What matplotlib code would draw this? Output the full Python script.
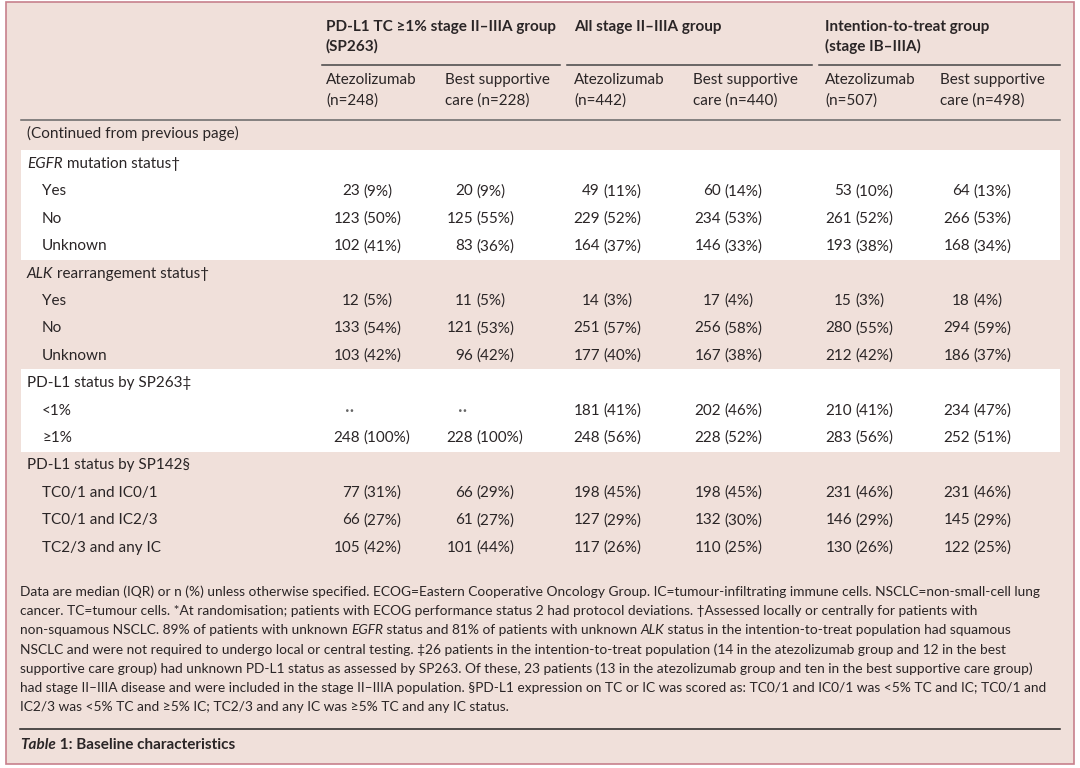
import matplotlib
matplotlib.use("Agg")
import matplotlib.pyplot as plt
from matplotlib.patches import Rectangle

plt.rcParams['font.family'] = ['Lato', 'DejaVu Sans']

# ---- table data ----
group_titles = [["PD-L1 TC \u22651% stage II\u2013IIIA group", "(SP263)"],
                ["All stage II\u2013IIIA group"],
                ["Intention-to-treat group", "(stage IB\u2013IIIA)"]]
col_heads = [["Atezolizumab", "(n=248)"], ["Best supportive", "care (n=228)"],
             ["Atezolizumab", "(n=442)"], ["Best supportive", "care (n=440)"],
             ["Atezolizumab", "(n=507)"], ["Best supportive", "care (n=498)"]]

sections = [[("EGFR", "italic"), (" mutation status\u2020", "normal")],
            [("ALK", "italic"), (" rearrangement status\u2020", "normal")],
            [("PD-L1 status by SP263\u2021", "normal")],
            [("PD-L1 status by SP142\u00a7", "normal")]]
subrows = [["Yes", "No", "Unknown"],
           ["Yes", "No", "Unknown"],
           ["<1%", "\u22651%"],
           ["TC0/1 and IC0/1", "TC0/1 and IC2/3", "TC2/3 and any IC"]]

n_pdl1_atezo = [23, 123, 102, 12, 133, 103, None, 248, 77, 66, 105]
p_pdl1_atezo = [9, 50, 41, 5, 54, 42, None, 100, 31, 27, 42]
n_pdl1_bsc = [20, 125, 83, 11, 121, 96, None, 228, 66, 61, 101]
p_pdl1_bsc = [9, 55, 36, 5, 53, 42, None, 100, 29, 27, 44]
n_all_atezo = [49, 229, 164, 14, 251, 177, 181, 248, 198, 127, 117]
p_all_atezo = [11, 52, 37, 3, 57, 40, 41, 56, 45, 29, 26]
n_all_bsc = [60, 234, 146, 17, 256, 167, 202, 228, 198, 132, 110]
p_all_bsc = [14, 53, 33, 4, 58, 38, 46, 52, 45, 30, 25]
n_itt_atezo = [53, 261, 193, 15, 280, 212, 210, 283, 231, 146, 130]
p_itt_atezo = [10, 52, 38, 3, 55, 42, 41, 56, 46, 29, 26]
n_itt_bsc = [64, 266, 168, 18, 294, 186, 234, 252, 231, 145, 122]
p_itt_bsc = [13, 53, 34, 4, 59, 37, 47, 51, 46, 29, 25]

footnotes = [
    [("Data are median (IQR) or n (%) unless otherwise specified. ECOG=Eastern Cooperative Oncology Group. IC=tumour-infiltrating immune cells. NSCLC=non-small-cell lung", "normal")],
    [("cancer. TC=tumour cells. *At randomisation; patients with ECOG performance status 2 had protocol deviations. \u2020Assessed locally or centrally for patients with", "normal")],
    [("non-squamous NSCLC. 89% of patients with unknown ", "normal"), ("EGFR", "italic"),
     (" status and 81% of patients with unknown ", "normal"), ("ALK", "italic"),
     (" status in the intention-to-treat population had squamous", "normal")],
    [("NSCLC and were not required to undergo local or central testing. \u202126 patients in the intention-to-treat population (14 in the atezolizumab group and 12 in the best", "normal")],
    [("supportive care group) had unknown PD-L1 status as assessed by SP263. Of these, 23 patients (13 in the atezolizumab group and ten in the best supportive care group)", "normal")],
    [("had stage II\u2013IIIA disease and were included in the stage II\u2013IIIA population. \u00a7PD-L1 expression on TC or IC was scored as: TC0/1 and IC0/1 was <5% TC and IC; TC0/1 and", "normal")],
    [("IC2/3 was <5% TC and \u22655% IC; TC2/3 and any IC was \u22655% TC and any IC status.", "normal")],
]

# ---- layout ----
BG = '#f0e0da'
TXT = '#2a2526'
fs = 11
fs_note = 9.9

fig = plt.figure(figsize=(10.8, 7.68), dpi=100)
fig.patch.set_facecolor('white')
ax = fig.add_axes([0, 0, 1, 1])
ax.set_xlim(0, 1080)
ax.set_ylim(768, 0)
ax.axis('off')
renderer = fig.canvas.get_renderer()


def runs(x, y, parts, size, weight='normal'):
    for s, style in parts:
        t = ax.text(x, y, s, fontsize=size, fontstyle=style, fontweight=weight,
                    color=TXT, va='center', ha='left')
        bb = t.get_window_extent(renderer)
        x += bb.width


ax.add_patch(Rectangle((6, 2), 1068, 762, facecolor=BG, edgecolor='#c7808c', lw=1.2))

row_y0 = 164
row_h = 27.4
# white bands behind first and third sections
ax.add_patch(Rectangle((21, row_y0 - 14), 1039, row_h * 3 + 28, facecolor='white', edgecolor='none'))
ax.add_patch(Rectangle((21, row_y0 + row_h * 8 - 14), 1039, row_h * 2 + 28, facecolor='white', edgecolor='none'))

# headers
gx = [326, 574, 825]
for x, lines in zip(gx, group_titles):
    for i, s in enumerate(lines):
        ax.text(x, 27 + 19 * i, s, fontsize=fs, fontweight='bold', color=TXT, va='center')
for x0, x1 in [(322, 560), (567, 812), (819, 1060)]:
    ax.plot([x0, x1], [65, 65], color='#444444', lw=1.1)
col_x = [326, 445, 574, 693, 825, 940]
for x, lines in zip(col_x, col_heads):
    for i, s in enumerate(lines):
        ax.text(x, 80 + 21 * i, s, fontsize=fs, color=TXT, va='center')
ax.plot([21, 1060], [120, 120], color='#666666', lw=1.1)
ax.text(27, 133, "(Continued from previous page)", fontsize=fs, color=TXT, va='center')

# body
columns = [(n_pdl1_atezo, p_pdl1_atezo), (n_pdl1_bsc, p_pdl1_bsc),
           (n_all_atezo, p_all_atezo), (n_all_bsc, p_all_bsc),
           (n_itt_atezo, p_itt_atezo), (n_itt_bsc, p_itt_bsc)]
anchors = [360, 473, 600, 721, 852, 970]

y = row_y0
k = 0
for sec, subs in zip(sections, subrows):
    runs(27, y, sec, fs)
    y += row_h
    for lab in subs:
        ax.text(42, y, lab, fontsize=fs, color=TXT, va='center')
        for (ns, ps), a in zip(columns, anchors):
            if ns[k] is None:
                ax.text(a - 10, y, "\u00b7\u00b7", fontsize=13, color='#666666', va='center', ha='center')
            else:
                ax.text(a, y, f"{ns[k]}", fontsize=fs, color=TXT, va='center', ha='right')
                ax.text(a + 3, y, f"({ps[k]}%)", fontsize=fs, color=TXT, va='center', ha='left')
        k += 1
        y += row_h

# footnotes
for i, parts in enumerate(footnotes):
    runs(20, 592 + 19.2 * i, parts, fs_note)

ax.plot([20, 1060], [729, 729], color='#222222', lw=1.1)
runs(20, 745, [("Table", "italic"), (" 1: Baseline characteristics", "normal")], 11, weight='bold')

fig.savefig('out.png', dpi=100, facecolor=fig.get_facecolor())
